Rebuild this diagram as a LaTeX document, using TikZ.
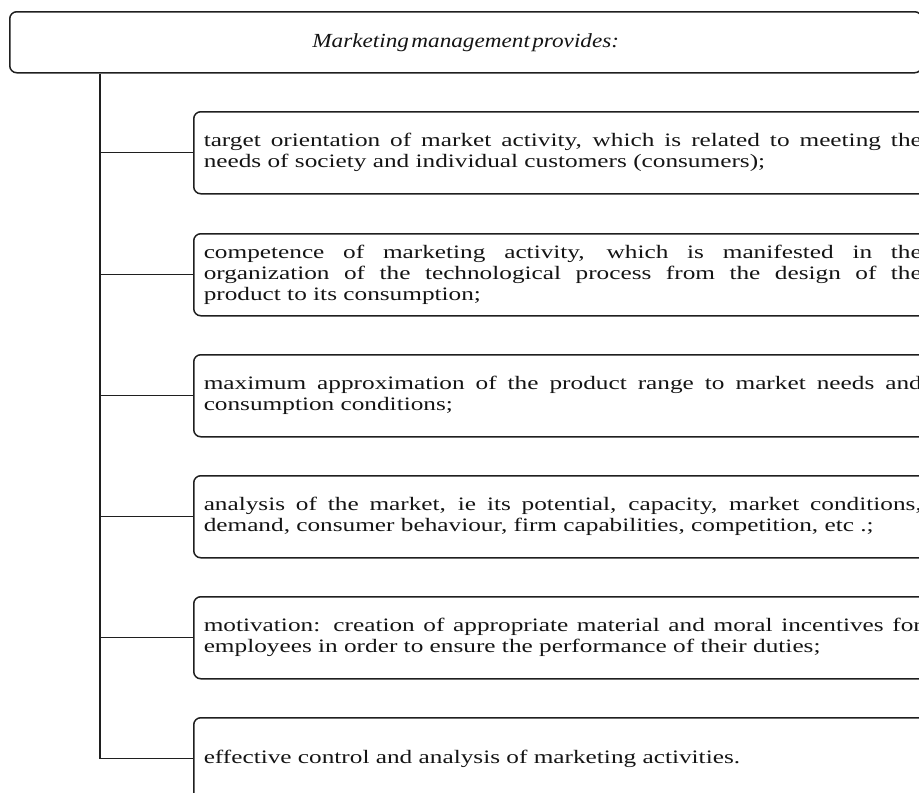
\documentclass[tikz,border=0pt]{standalone}
\usepackage{fontspec}
\setmainfont{Liberation Serif}
\newfontfamily\bodyfont[FakeStretch=1.33]{Liberation Serif}
\newfontfamily\headfont[FakeStretch=1.16]{Liberation Serif}
\begin{document}
\begin{tikzpicture}[x=1pt,y=-1pt,
  frame/.style={draw=black!88, line width=1.5pt, rounded corners=7pt},
  item/.style={frame, anchor=north west, minimum height=82pt, text width=718pt,
    inner xsep=10pt, inner ysep=0pt, align=justify,
    font=\bodyfont\fontsize{19}{21}\selectfont, text=black!92},
  link/.style={draw=black!88, line width=1.4pt}]
\useasboundingbox (0,0) rectangle (919,793);
\clip (0,0) rectangle (919,793);

% heading box
\node[frame, anchor=north west, minimum width=912pt, minimum height=61pt,
  font=\headfont\fontsize{20}{22}\selectfont\itshape, text=black!92] (head) at (9,11)
  {\spaceskip=0.12em Marketing management provides:};

% the six items
\node[item] (i1) at (193,111)
  {target orientation of market activity, which is related to meeting the\linebreak
   needs of society and individual customers (consumers);};
\node[item] (i2) at (193,233)
  {competence of marketing activity, which is manifested in the\linebreak
   organization of the technological process from the design of the\linebreak
   product to its consumption;};
\node[item] (i3) at (193,354)
  {maximum approximation of the product range to market needs and\linebreak
   consumption conditions;};
\node[item] (i4) at (193,475)
  {analysis of the market, ie its potential, capacity, market conditions,\linebreak
   demand, consumer behaviour, firm capabilities, competition, etc .;};
\node[item] (i5) at (193,596)
  {motivation: creation of appropriate material and moral incentives for\linebreak
   employees in order to ensure the performance of their duties;};
\node[item] (i6) at (193,717)
  {effective control and analysis of marketing activities.};

% trunk and branches
\coordinate (trunkTop) at ([xshift=91pt]head.south west);
\coordinate (trunkEnd) at (i6.west -| trunkTop);
\draw[link] (trunkTop) -- (trunkEnd);
\foreach \n in {i1,i2,i3,i4,i5,i6}
  \draw[link] (\n.west -| trunkTop) -- (\n.west);
\end{tikzpicture}
\end{document}
